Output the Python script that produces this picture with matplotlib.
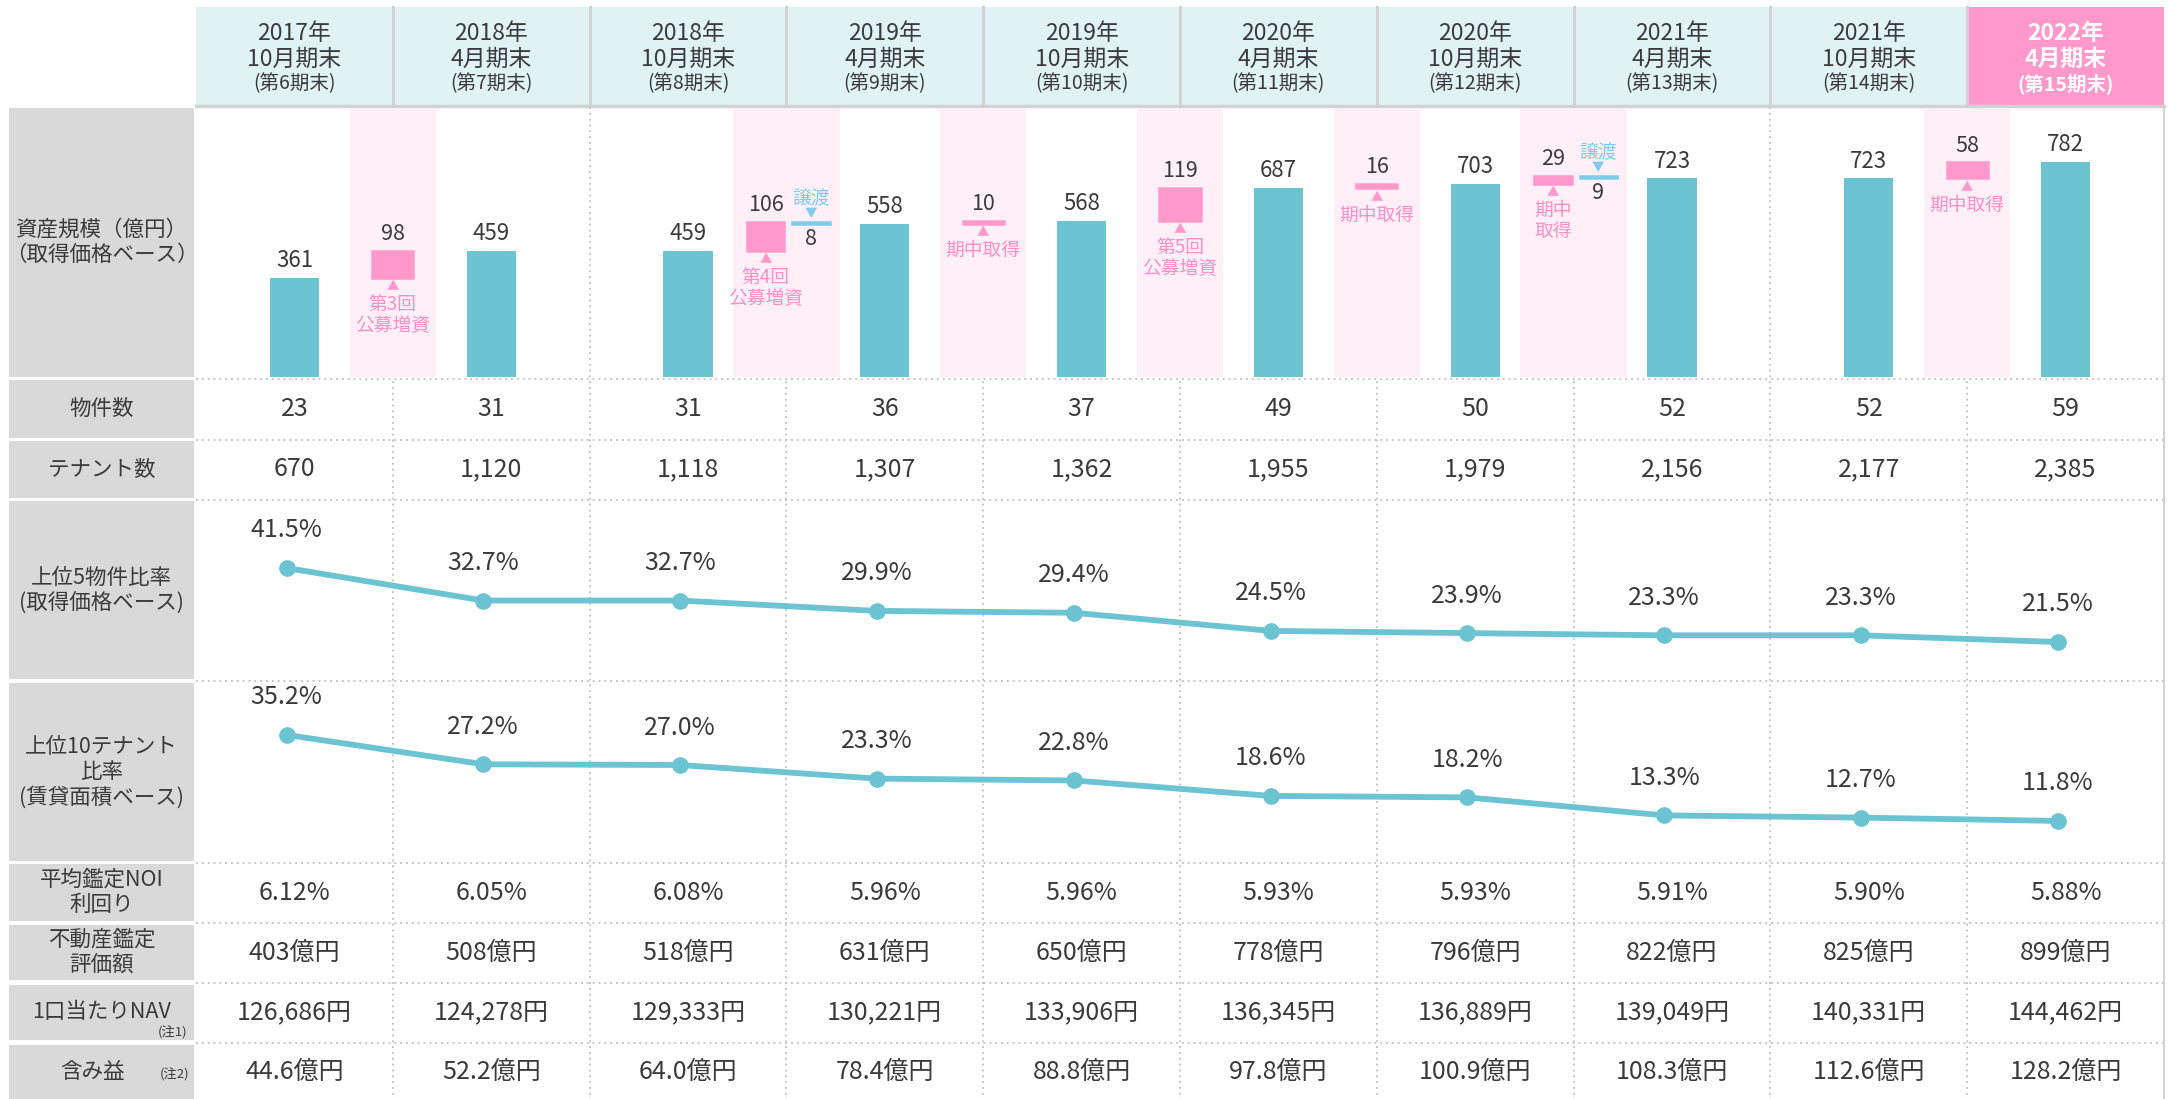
import numpy as np
import matplotlib
matplotlib.use('Agg')
from matplotlib import pyplot as plt
from matplotlib.patches import Rectangle

plt.rcParams['font.family'] = ['Noto Sans CJK JP', 'DejaVu Sans']

# ---- data ----
period_year = ['2017年', '2018年', '2018年', '2019年', '2019年',
               '2020年', '2020年', '2021年', '2021年', '2022年']
period_month = ['10月期末', '4月期末', '10月期末', '4月期末', '10月期末',
                '4月期末', '10月期末', '4月期末', '10月期末', '4月期末']
period_no = ['(第6期末)', '(第7期末)', '(第8期末)', '(第9期末)', '(第10期末)',
             '(第11期末)', '(第12期末)', '(第13期末)', '(第14期末)', '(第15期末)']

asset_size = [361, 459, 459, 558, 568, 687, 703, 723, 723, 782]
# changes between two consecutive periods
acquisition = [98, 0, 106, 10, 119, 16, 29, 0, 58]
acquisition_note = ['第3回\n公募増資', '', '第4回\n公募増資', '期中取得', '第5回\n公募増資',
                    '期中取得', '期中\n取得', '', '期中取得']
disposition = [0, 0, 8, 0, 0, 0, 9, 0, 0]

property_count = [23, 31, 31, 36, 37, 49, 50, 52, 52, 59]
tenant_count = [670, 1120, 1118, 1307, 1362, 1955, 1979, 2156, 2177, 2385]
top5_ratio = [41.5, 32.7, 32.7, 29.9, 29.4, 24.5, 23.9, 23.3, 23.3, 21.5]
top10_ratio = [35.2, 27.2, 27.0, 23.3, 22.8, 18.6, 18.2, 13.3, 12.7, 11.8]
noi_yield = [6.12, 6.05, 6.08, 5.96, 5.96, 5.93, 5.93, 5.91, 5.90, 5.88]
appraisal_value = [403, 508, 518, 631, 650, 778, 796, 822, 825, 899]
nav_per_unit = [126686, 124278, 129333, 130221, 133906, 136345, 136889, 139049, 140331, 144462]
unrealized_gain = [44.6, 52.2, 64.0, 78.4, 88.8, 97.8, 100.9, 108.3, 112.6, 128.2]

row_labels = ['資産規模（億円）\n（取得価格ベース）', '物件数', 'テナント数',
              '上位5物件比率\n(取得価格ベース)', '上位10テナント\n比率\n(賃貸面積ベース)',
              '平均鑑定NOI\n利回り', '不動産鑑定\n評価額', '1口当たりNAV', '含み益']

# ---- layout (pixels) ----
W, H = 2168, 1099
col_x0, col_w = 196, 196.8
n = len(asset_size)
rows = [(108, 377), (380, 438), (441, 498), (501, 679), (683, 861),
        (864, 921), (925, 980), (985, 1040), (1045, 1099)]

TEAL = '#6CC4D3'
PINK = '#FF99CB'
PINK_TXT = '#FF8EC6'
BAND = '#FFF0F7'
BLUE = '#7FCBEE'
HEAD_BG = '#E0F2F4'
LABEL_BG = '#D9D9D9'
DARK = '#3A3A3A'
GRID = '#C6C6C6'

fig = plt.figure(figsize=(W / 100, H / 100), dpi=100)
ax = fig.add_axes([0, 0, 1, 1])
ax.set_xlim(0, W)
ax.set_ylim(H, 0)
ax.axis('off')


def cx(i):
    return col_x0 + (i + 0.5) * col_w


def sub_axes(top, bottom):
    a = fig.add_axes([col_x0 / W, 1 - bottom / H, n * col_w / W, (bottom - top) / H])
    a.set_xlim(-0.5, n - 0.5)
    a.axis('off')
    return a


def stacked(x, yc, text, step, **kw):
    lines = text.split('\n')
    for j, s in enumerate(lines):
        ax.text(x, yc + (j - (len(lines) - 1) / 2) * step, s,
                ha='center', va='center', **kw)


# header
for i in range(n):
    last = i == n - 1
    ax.add_patch(Rectangle((col_x0 + i * col_w, 7), col_w, 98,
                           fc=PINK if last else HEAD_BG, ec='none'))
    tc = 'white' if last else DARK
    fw = 'bold' if last else 'normal'
    ax.text(cx(i), 33, period_year[i], ha='center', va='center', fontsize=16.5, color=tc, fontweight=fw)
    ax.text(cx(i), 59, period_month[i], ha='center', va='center', fontsize=16.5, color=tc, fontweight=fw)
    ax.text(cx(i), 84, period_no[i], ha='center', va='center', fontsize=14, color=tc, fontweight=fw)
for k in range(1, n):
    x = col_x0 + k * col_w
    ax.plot([x, x], [7, 105], color='#D2D2D2', lw=2.2)
ax.plot([col_x0, col_x0 + n * col_w], [106, 106], color='#D2D2D2', lw=2.5)

# grid
for k in range(1, n):
    x = col_x0 + k * col_w
    ax.plot([x, x], [107, H], color=GRID, lw=1.4, ls=(0, (1, 2)))
for (t0, b0), (t1, b1) in zip(rows[:-1], rows[1:]):
    y = (b0 + t1) / 2
    ax.plot([col_x0, col_x0 + n * col_w], [y, y], color=GRID, lw=1.4, ls=(0, (1, 2)))
ax.plot([2164, 2164], [107, H], color='#D2D2D2', lw=1.5)

# row labels
for (top, bottom), lab in zip(rows, row_labels):
    ax.add_patch(Rectangle((9, top), 185, bottom - top, fc=LABEL_BG, ec='none'))
    if lab == '含み益':
        stacked(92, (top + bottom) / 2, lab, 25, fontsize=15.5, color=DARK)
    else:
        stacked(101.5, (top + bottom) / 2, lab, 25, fontsize=15.5, color=DARK)
ax.text(173, 1033, '(注1)', ha='center', va='center', fontsize=9.5, color=DARK)
ax.text(175, 1075, '(注2)', ha='center', va='center', fontsize=9.5, color=DARK)

# simple value rows
value_rows = [
    (rows[1], [str(v) for v in property_count]),
    (rows[2], [f'{v:,}' for v in tenant_count]),
    (rows[5], [f'{v:.2f}%' for v in noi_yield]),
    (rows[6], [f'{v}億円' for v in appraisal_value]),
    (rows[7], [f'{v:,}円' for v in nav_per_unit]),
    (rows[8], [f'{v:.1f}億円' for v in unrealized_gain]),
]
for (top, bottom), texts in value_rows:
    for i, s in enumerate(texts):
        ax.text(cx(i), (top + bottom) / 2, s, ha='center', va='center', fontsize=18, color=DARK)

# asset size waterfall row
idx = np.arange(n)
bx = sub_axes(*rows[0])
bx.set_ylim(0, 978)
for k in range(n - 1):
    acq, disp = acquisition[k], disposition[k]
    if acq == 0 and disp == 0:
        continue
    b = k + 0.5
    paired = disp > 0
    band_w = 0.54 if paired else 0.44
    bx.axvspan(b - band_w / 2, b + band_w / 2, color=BAND, lw=0, zorder=0)
    box_x = b - 0.105 if paired else b
    box_w = 0.19 if paired else 0.21
    base = asset_size[k]
    bx.bar(box_x, acq, bottom=base, width=box_w, color=PINK, ec=PINK, lw=1.8, zorder=2)
    bx.annotate(str(acq), xy=(box_x, base + acq), xytext=(0, 4), textcoords='offset points',
                ha='center', va='bottom', fontsize=15.5, color=DARK)
    bx.annotate('▲', xy=(box_x, base), xytext=(0, -2), textcoords='offset points',
                ha='center', va='top', fontsize=9, color=PINK)
    bx.annotate(acquisition_note[k], xy=(box_x, base), xytext=(0, -12), textcoords='offset points',
                ha='center', va='top', fontsize=13.5, color=PINK_TXT, linespacing=0.95)
    if paired:
        tx = b + 0.125
        top = base + acq
        bx.bar(tx, disp, bottom=top - disp, width=0.19, color=BLUE, ec=BLUE, lw=1.8, zorder=2)
        bx.annotate('▼', xy=(tx, top), xytext=(0, 1), textcoords='offset points',
                    ha='center', va='bottom', fontsize=9, color=BLUE)
        bx.annotate('譲渡', xy=(tx, top), xytext=(0, 9), textcoords='offset points',
                    ha='center', va='bottom', fontsize=13.5, color=BLUE)
        bx.annotate(str(disp), xy=(tx, top - disp), xytext=(0, -3), textcoords='offset points',
                    ha='center', va='top', fontsize=15.5, color=DARK)

bx.bar(idx, asset_size, width=0.25, color=TEAL, zorder=2)
for i, v in enumerate(asset_size):
    bx.annotate(str(v), xy=(i, v), xytext=(0, 4), textcoords='offset points',
                ha='center', va='bottom', fontsize=16, color=DARK)

# ratio line rows
for series, (top, bottom), lim in [(top5_ratio, rows[3], (11.5, 59.6)),
                                    (top10_ratio, rows[4], (0.9, 49.3))]:
    la = sub_axes(top, bottom)
    la.set_ylim(*lim)
    xs = idx - 0.04
    la.plot(xs, series, color=TEAL, lw=4.2, marker='o', ms=11, solid_capstyle='round')
    for x, v in zip(xs, series):
        la.annotate(f'{v:.1f}%', xy=(x, v), xytext=(0, 27), textcoords='offset points',
                    ha='center', va='center', fontsize=18, color=DARK)

fig.savefig('out.png', dpi=100)
